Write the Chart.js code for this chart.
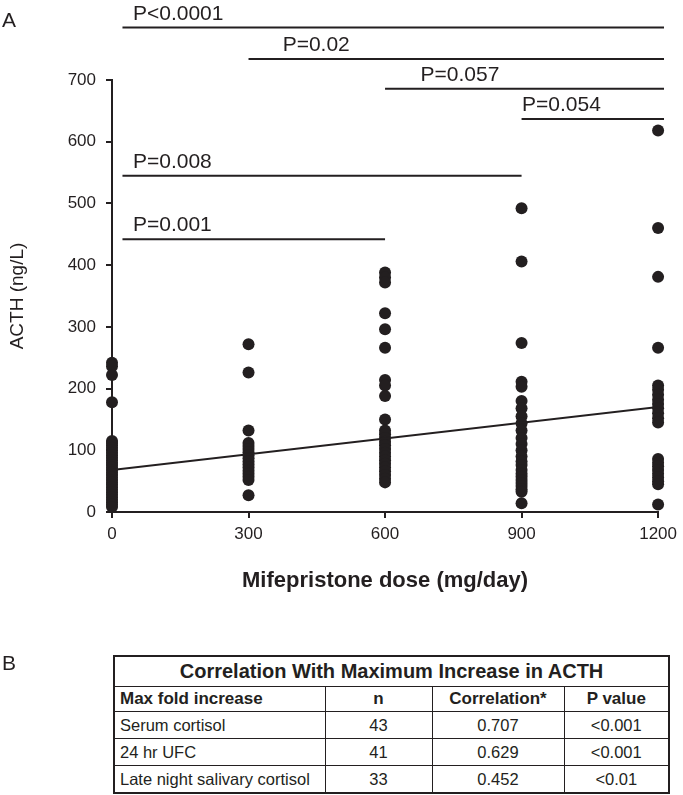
<!DOCTYPE html>
<html>
<head>
<meta charset="utf-8">
<script src="https://cdn.jsdelivr.net/npm/chart.js@4.4.0/dist/chart.umd.min.js"></script>
<style>
body { margin: 0; background: #fff; font-family: "Liberation Sans", Arial, sans-serif; color: #231f20; }
#page { position: relative; width: 683px; height: 795px; overflow: hidden; }
#wrap { position: absolute; left: 0; top: 0; width: 683px; height: 600px; }
.panel { position: absolute; left: 2px; font-size: 21px; }
#corr { position: absolute; left: 113px; top: 655px; width: 555px; border-collapse: collapse; border: 2px solid #231f20; table-layout: fixed; }
#corr td, #corr th { border: 1px solid #231f20; padding: 0 5px; font-size: 16.5px; height: 26px; text-align: center; white-space: nowrap; overflow: hidden; }
#corr th { font-size: 20px; height: 29px; }
#corr .hd td { font-weight: bold; font-size: 17px; height: 24px; }
#corr td.first { text-align: left; }
</style>
</head>
<body>
<div id="page">
  <div id="wrap"><canvas id="acth_graph"></canvas></div>
  <div class="panel" style="top:8px;">A</div>
  <div class="panel" style="top:651px;">B</div>
  <table id="corr"></table>
</div>
<script>
// dose groups and ACTH values
const doses = [0, 300, 600, 900, 1200];
const acth_0 = [242, 236, 222, 178, 115, 112, 108, 104, 100, 96, 92, 88, 84, 80, 76, 72, 68, 64, 60, 56, 52, 48, 44, 40, 36, 32, 28, 24, 20, 16, 12, 8];
const acth_300 = [272, 226, 132, 112, 107, 102, 97, 92, 87, 82, 77, 72, 67, 62, 57, 52, 27];
const acth_600 = [388, 380, 372, 322, 296, 266, 214, 205, 188, 150, 132, 126, 120, 114, 108, 102, 96, 90, 84, 78, 72, 66, 60, 54, 48];
const acth_900 = [492, 406, 274, 211, 203, 180, 168, 155, 144, 132, 120, 110, 100, 90, 82, 76, 68, 62, 57, 52, 47, 42, 37, 33, 14];
const acth_1200 = [618, 460, 381, 266, 205, 198, 190, 182, 175, 168, 160, 152, 145, 86, 80, 74, 68, 62, 56, 50, 45, 12];
const acthGroups = [acth_0, acth_300, acth_600, acth_900, acth_1200];

// regression line
const fitX = [0, 1200];
const fitY = [68, 170];

const xTicks = [0, 300, 600, 900, 1200];
const yTicks = [0, 100, 200, 300, 400, 500, 600, 700];

// significance bars
const barLabels = ['P<0.0001', 'P=0.02', 'P=0.057', 'P=0.054', 'P=0.008', 'P=0.001'];
const barStart = [23, 300, 600, 900, 23, 23];
const barEnd = [1213, 1213, 1213, 1213, 900, 600];
const barLevel = [785, 734, 686, 637, 545, 442];
const labelX = [46, 375, 678, 901, 46, 46];

// table B
const tableTitle = 'Correlation With Maximum Increase in ACTH';
const tableHead = ['Max fold increase', 'n', 'Correlation*', 'P value'];
const measures = ['Serum cortisol', '24 hr UFC', 'Late night salivary cortisol'];
const nValues = [43, 41, 33];
const corrValues = ['0.707', '0.629', '0.452'];
const pValues = ['<0.001', '<0.001', '<0.01'];

const ink = '#231f20';
const fontName = '"Liberation Sans", Arial, sans-serif';

var points = [];
doses.forEach(function (dose, i) {
    acthGroups[i].forEach(function (v) {
        points.push({x: dose, y: v});
    });
});

var datasets = [{
    data: points,
    backgroundColor: ink,
    borderWidth: 0,
    pointRadius: 6,
    pointHoverRadius: 6,
    clip: false,
    order: 1
}, {
    data: fitX.map(function (x, i) { return {x: x, y: fitY[i]}; }),
    showLine: true,
    borderColor: ink,
    borderWidth: 2,
    pointRadius: 0,
    order: 0
}];
barLabels.forEach(function (lab, i) {
    datasets.push({
        data: [{x: barStart[i], y: barLevel[i]}, {x: barEnd[i], y: barLevel[i]}],
        showLine: true,
        borderColor: ink,
        borderWidth: 2,
        pointRadius: 0,
        clip: false
    });
});

const barText = {
    id: 'barText',
    afterDatasetsDraw: function (chart) {
        var c = chart.ctx;
        var xs = chart.scales.x, ys = chart.scales.y;
        c.save();
        c.fillStyle = ink;
        c.font = '21px ' + fontName;
        c.textBaseline = 'alphabetic';
        barLabels.forEach(function (lab, i) {
            c.fillText(lab, xs.getPixelForValue(labelX[i]), ys.getPixelForValue(barLevel[i]) - 8);
        });
        c.restore();
    }
};

new Chart(document.getElementById('acth_graph'), {
    type: 'scatter',
    data: {datasets: datasets},
    options: {
        responsive: true,
        maintainAspectRatio: false,
        animation: false,
        events: [],
        layout: {padding: {top: 80, right: 24, left: 0, bottom: 0}},
        plugins: {legend: {display: false}, tooltip: {enabled: false}},
        scales: {
            x: {
                type: 'linear',
                min: 0,
                max: 1200,
                afterBuildTicks: function (s) { s.ticks = xTicks.map(function (v) { return {value: v}; }); },
                afterFit: function (s) { s.height = 88; },
                grid: {drawOnChartArea: false, tickLength: 6, color: ink, lineWidth: 2},
                border: {color: ink, width: 2},
                ticks: {color: ink, font: {size: 17, family: fontName}, padding: 6, maxRotation: 0,
                    callback: function (v) { return String(v); }},
                title: {display: true, text: 'Mifepristone dose (mg/day)', color: ink,
                    font: {size: 22, weight: 'bold', family: fontName}, padding: {top: 4, bottom: 6}}
            },
            y: {
                min: 0,
                max: 700,
                afterBuildTicks: function (s) { s.ticks = yTicks.map(function (v) { return {value: v}; }); },
                afterFit: function (s) { s.width = 112; },
                grid: {drawOnChartArea: false, tickLength: 6, color: ink, lineWidth: 2},
                border: {color: ink, width: 2},
                ticks: {color: ink, font: {size: 17, family: fontName}, padding: 10,
                    callback: function (v) { return String(v); }},
                title: {display: true, text: 'ACTH (ng/L)', color: ink,
                    font: {size: 19, family: fontName}, padding: {top: 6, bottom: 4}}
            }
        }
    },
    plugins: [barText]
});

// build the correlation table
var widths = [211, 107, 132, 105];
var html = '<colgroup>' + widths.map(function (w) { return '<col style="width:' + w + 'px">'; }).join('') + '</colgroup>';
html += '<tr><th colspan="4">' + tableTitle + '</th></tr>';
html += '<tr class="hd">' + tableHead.map(function (h, i) {
    return '<td' + (i === 0 ? ' class="first"' : '') + '>' + h + '</td>';
}).join('') + '</tr>';
measures.forEach(function (m, i) {
    html += '<tr><td class="first">' + m + '</td><td>' + nValues[i] + '</td><td>' +
        corrValues[i] + '</td><td>' + pValues[i].replace('<', '&lt;') + '</td></tr>';
});
document.getElementById('corr').innerHTML = html;
</script>
</body>
</html>
